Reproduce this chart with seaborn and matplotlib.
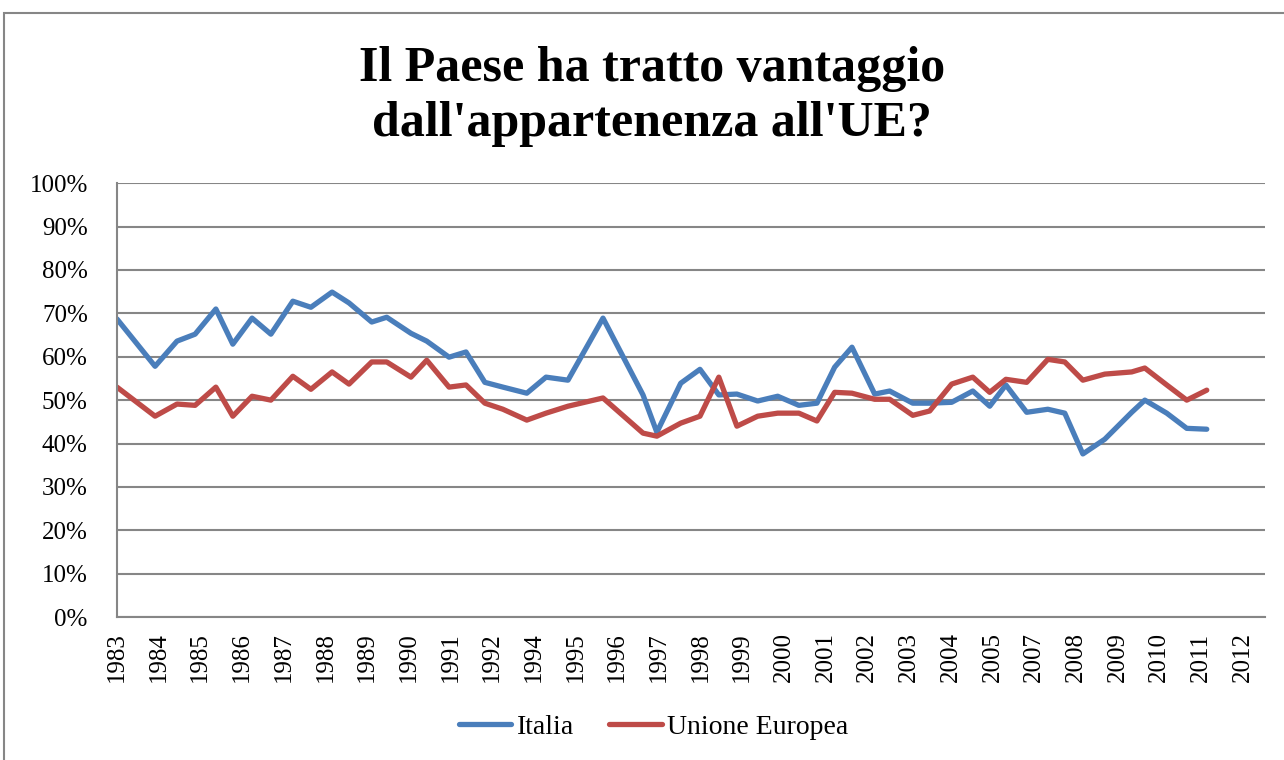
import pandas as pd
import seaborn as sns
import matplotlib.pyplot as plt
from matplotlib.lines import Line2D
from matplotlib.patches import Rectangle

# survey dates (decimal years) and share answering "yes" (%)
survey = [1983.17, 1984.16, 1984.73, 1985.20, 1985.74, 1986.18, 1986.68, 1987.17,
          1987.74, 1988.21, 1988.76, 1989.20, 1989.79, 1990.18, 1990.81, 1991.22,
          1991.80, 1992.24, 1992.73, 1993.20, 1993.82, 1994.32, 1994.89, 1995.80,
          1996.84, 1997.20, 1997.82, 1998.32, 1998.81, 1999.28, 1999.82, 2000.34,
          2000.89, 2001.36, 2001.82, 2002.27, 2002.86, 2003.25, 2003.85, 2004.29,
          2004.86, 2005.41, 2005.85, 2006.27, 2006.81, 2007.36, 2007.80, 2008.27,
          2008.84, 2009.54, 2009.88, 2010.45, 2010.97, 2011.49]

italia = [68.7, 57.8, 63.6, 65.2, 71.0, 62.9, 68.9, 65.2, 72.8, 71.4, 74.9, 72.4,
          68.0, 69.1, 65.4, 63.6, 59.9, 61.1, 54.1, 53.0, 51.6, 55.3, 54.6, 68.9,
          51.2, 42.6, 53.9, 57.1, 51.2, 51.4, 49.8, 50.9, 48.8, 49.3, 57.6, 62.2,
          51.4, 52.1, 49.3, 49.3, 49.5, 52.1, 48.6, 53.5, 47.2, 47.9, 47.0, 37.6,
          41.0, 47.2, 50.0, 47.0, 43.5, 43.3]

unione_europea = [53.0, 46.3, 49.1, 48.8, 53.0, 46.3, 50.9, 50.0, 55.5, 52.5, 56.5, 53.7,
                  58.8, 58.8, 55.3, 59.2, 53.0, 53.5, 49.3, 47.9, 45.4, 47.0, 48.6, 50.5,
                  42.4, 41.7, 44.7, 46.3, 55.3, 44.0, 46.3, 47.0, 47.0, 45.2, 51.8, 51.6,
                  50.2, 50.2, 46.5, 47.5, 53.7, 55.3, 51.8, 54.8, 54.1, 59.4, 58.8, 54.6,
                  56.0, 56.5, 57.4, 53.5, 50.0, 52.3]

tick_labels = ['1983', '1984', '1985', '1986', '1987', '1988', '1989', '1990', '1991',
               '1992', '1994', '1995', '1996', '1997', '1998', '1999', '2000', '2001',
               '2002', '2003', '2004', '2005', '2007', '2008', '2009', '2010', '2011', '2012']

series = ['Italia', 'Unione Europea']
colors = ['#4a7ebb', '#be4b48']

n = len(survey)
df = pd.DataFrame({
    'survey': survey * 2,
    'value': italia + unione_europea,
    'serie': [series[0]] * n + [series[1]] * n,
})

sns.set_style('white')
plt.rcParams['font.family'] = ['Liberation Serif', 'DejaVu Serif']
plt.rcParams['text.color'] = 'black'
plt.rcParams['xtick.color'] = 'black'
plt.rcParams['ytick.color'] = 'black'

fig = plt.figure(figsize=(12.84, 7.6), dpi=100)
ax = fig.add_axes([0.0911, 0.188, 0.894, 0.571])

sns.lineplot(data=df, x='survey', y='value', hue='serie', palette=colors,
             linewidth=3.8, estimator=None, sort=False, legend=False, ax=ax)

# date axis: a label every 13 months
x0 = 1983.17
step = 13 / 12
ax.set_xlim(x0, x0 + 29.83)
ax.set_xticks([x0 + k * step for k in range(len(tick_labels))])
ax.set_xticklabels(tick_labels, rotation=90, fontsize=18)

ax.set_ylim(0, 100)
ax.set_yticks(range(0, 101, 10))
ax.set_yticklabels([f'{v}%' for v in range(0, 101, 10)], fontsize=18)
ax.tick_params(axis='both', length=0)
ax.tick_params(axis='x', pad=11)
ax.tick_params(axis='y', pad=21)
ax.set_xlabel('')
ax.set_ylabel('')

ax.yaxis.grid(True, color='#868686', linewidth=1.5)
ax.xaxis.grid(False)
ax.set_axisbelow(True)
for side in ['top', 'right']:
    ax.spines[side].set_visible(False)
for side in ['left', 'bottom']:
    ax.spines[side].set_color('#868686')
    ax.spines[side].set_linewidth(1.5)

fig.text(0.508, 0.873, "Il Paese ha tratto vantaggio\ndall'appartenenza all'UE?",
         ha='center', va='center', fontsize=36, fontweight='bold', linespacing=1.25)

handles = [Line2D([], [], color=c, linewidth=3.8, solid_capstyle='round') for c in colors]
fig.legend(handles, series, loc='center', bbox_to_anchor=(0.509, 0.043), ncol=2,
           frameon=False, fontsize=20, handlelength=1.9, handletextpad=0.2,
           columnspacing=1.25)

fig.patches.append(Rectangle((0.003, -0.1), 1.2, 1.083, transform=fig.transFigure,
                             fill=False, edgecolor='#868686', linewidth=1.5))

fig.savefig('out.png', dpi=100)
